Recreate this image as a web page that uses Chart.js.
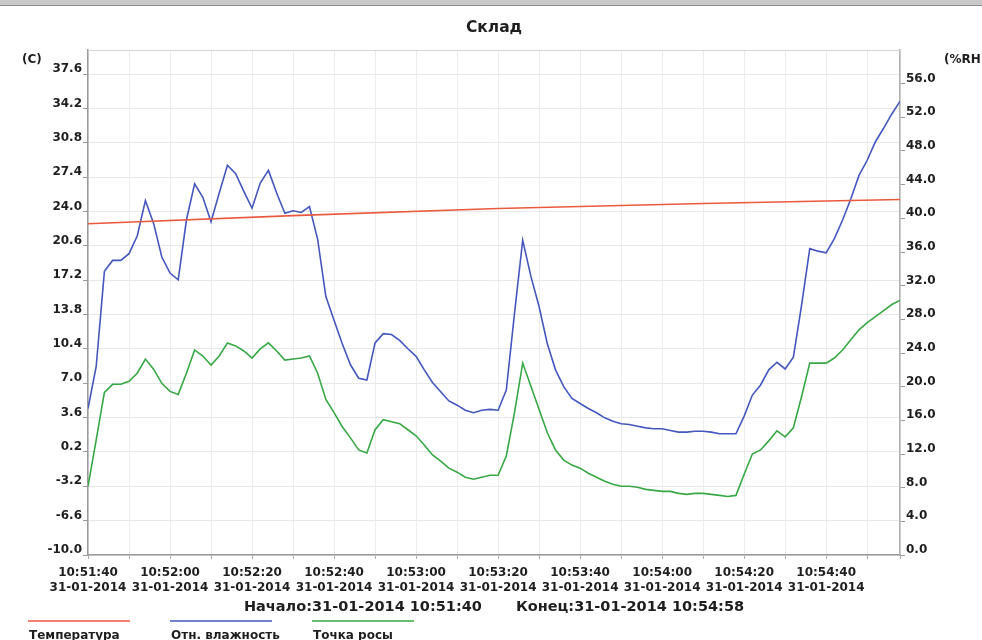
<!DOCTYPE html>
<html lang="ru">
<head>
<meta charset="UTF-8">
<title>Склад</title>
<script src="https://cdn.jsdelivr.net/npm/chart.js"></script>
<style>
  html, body { margin: 0; padding: 0; background: #fff; }
  #chart { display: block; }
</style>
</head>
<body>
<canvas id="chart" width="982" height="640"></canvas>
<script>
// one reading every 2 s, starting at 10:51:40
const sampleStep = 2;

// Отн. влажность, %RH (right axis)
const humidity = [
  17.4, 22.4, 33.7, 35.0, 35.0,  35.8, 37.9, 42.1, 39.4, 35.4,
  33.5, 32.7, 39.8, 44.1, 42.5,  39.6, 43.0, 46.3, 45.3, 43.2,
  41.2, 44.2, 45.7, 43.0, 40.6,  40.9, 40.7, 41.4, 37.5, 30.7,
  27.9, 25.1, 22.6, 21.0, 20.8,  25.2, 26.3, 26.2, 25.5, 24.5,
  23.6, 22.0, 20.5, 19.4, 18.3,  17.8, 17.2, 16.9, 17.2, 17.3,
  17.2, 19.6, 28.7, 37.4, 33.1,  29.5, 25.1, 22.0, 20.0, 18.6,
  18.0, 17.4, 16.9, 16.3, 15.9,  15.6, 15.5, 15.3, 15.1, 15.0,
  15.0, 14.8, 14.6, 14.6, 14.7,  14.7, 14.6, 14.4, 14.4, 14.4,
  16.5, 19.0, 20.2, 22.0, 22.9,  22.1, 23.5, 29.7, 36.4, 36.1,
  35.9, 37.6, 39.8, 42.3, 45.1,  46.9, 49.1, 50.7, 52.4, 53.9
];

// Точка росы, C (left axis)
const dewPoint = [
  -3.2, 1.4, 6.1, 6.9, 6.9,   7.2, 8.0, 9.4, 8.4, 7.0,
  6.2, 5.9, 8.0, 10.3, 9.7,   8.8, 9.7, 11.0, 10.7, 10.2,
  9.5, 10.4, 11.0, 10.2, 9.3,  9.4, 9.5, 9.7, 8.0, 5.4,
  4.1, 2.7, 1.6, 0.4, 0.1,    2.4, 3.4, 3.2, 3.0, 2.4,
  1.8, 0.9, -0.1, -0.7, -1.4, -1.8, -2.3, -2.5, -2.3, -2.1,
  -2.1, -0.2, 4.1, 9.0, 6.7,  4.4, 2.1, 0.4, -0.6, -1.1,
  -1.4, -1.9, -2.3, -2.7, -3.0, -3.2, -3.2, -3.3, -3.5, -3.6,
  -3.7, -3.7, -3.9, -4.0, -3.9, -3.9, -4.0, -4.1, -4.2, -4.1,
  -2.0, 0.0, 0.4, 1.3, 2.3,   1.7, 2.6, 5.7, 9.0, 9.0,
  9.0, 9.5, 10.3, 11.3, 12.3,  13.0, 13.6, 14.2, 14.8, 15.2
];

// Температура, C (left axis) - almost straight line
const tempSeconds = [0, 50, 100, 150, 198];
const temperature = [22.8, 23.6, 24.3, 24.8, 25.2];

const gridSeconds = [0, 10, 20, 30, 40, 50, 60, 70, 80, 90, 100, 110, 120, 130, 140, 150, 160, 170, 180, 190, 198];
const labelSeconds = [0, 20, 40, 60, 80, 100, 120, 140, 160, 180];
const timeLabels = ['10:51:40', '10:52:00', '10:52:20', '10:52:40', '10:53:00', '10:53:20', '10:53:40', '10:54:00', '10:54:20', '10:54:40'];
const dateLabel = '31-01-2014';

const leftTicks = [-10.0, -6.6, -3.2, 0.2, 3.6, 7.0, 10.4, 13.8, 17.2, 20.6, 24.0, 27.4, 30.8, 34.2, 37.6];
const rightTicks = [0, 4, 8, 12, 16, 20, 24, 28, 32, 36, 40, 44, 48, 52, 56];

const seriesNames = ['Температура', 'Отн. влажность', 'Точка росы'];
const seriesColors = ['#ec5a3e', '#4557bd', '#37a845'];

const toPoints = (xs, ys) => ys.map((y, i) => ({ x: xs[i], y: y }));
const sampleSeconds = humidity.map((_, i) => i * sampleStep);

Chart.defaults.font.family = '"DejaVu Sans", Verdana, sans-serif';
Chart.defaults.color = '#1e1e1e';

const decor = {
  id: 'decor',
  beforeDraw(chart) {
    const ctx = chart.ctx;
    ctx.save();
    ctx.fillStyle = '#fff';
    ctx.fillRect(0, 0, chart.width, chart.height);
    ctx.fillStyle = '#c9c9c9';
    ctx.fillRect(0, 0, chart.width, 5);
    ctx.fillStyle = '#8d8d8d';
    ctx.fillRect(0, 5, chart.width, 1);
    ctx.restore();
  },
  beforeDatasetsDraw(chart) {
    const { ctx, chartArea: a } = chart;
    ctx.save();
    ctx.strokeStyle = '#d4d4d4';
    ctx.lineWidth = 1;
    ctx.beginPath();
    ctx.moveTo(a.left, a.top + 0.5);
    ctx.lineTo(a.right, a.top + 0.5);
    ctx.stroke();
    ctx.restore();
  },
  afterDraw(chart) {
    const { ctx, chartArea: a } = chart;
    const cx = (a.left + a.right) / 2;
    ctx.save();
    ctx.fillStyle = '#1e1e1e';
    ctx.textBaseline = 'middle';

    ctx.font = 'bold 15.5px "DejaVu Sans"';
    ctx.textAlign = 'center';
    ctx.fillText('Склад', cx, 28);

    ctx.font = 'bold 12px "DejaVu Sans"';
    ctx.textAlign = 'left';
    ctx.fillText('(C)', 22, 60);
    ctx.fillText('(%RH', 944, 60);

    // start / end line under the axis
    ctx.font = 'bold 14.5px "DejaVu Sans"';
    const s1 = 'Начало:' + dateLabel + ' 10:51:40';
    const s2 = 'Конец:' + dateLabel + ' 10:54:58';
    const gap = 34;
    const w1 = ctx.measureText(s1).width, w2 = ctx.measureText(s2).width;
    let x0 = cx - (w1 + gap + w2) / 2;
    ctx.fillText(s1, x0, 607);
    ctx.fillText(s2, x0 + w1 + gap, 607);

    // legend: line sample above the name
    ctx.font = 'bold 12px "DejaVu Sans"';
    const starts = [28, 170, 312];
    chart.data.datasets.forEach((ds, i) => {
      ctx.globalAlpha = 0.75;
      ctx.strokeStyle = ds.borderColor;
      ctx.lineWidth = 2;
      ctx.beginPath();
      ctx.moveTo(starts[i], 621);
      ctx.lineTo(starts[i] + 102, 621);
      ctx.stroke();
      ctx.globalAlpha = 1;
      ctx.fillText(ds.label, starts[i] + 1, 636);
    });
    ctx.restore();
  }
};

new Chart(document.getElementById('chart'), {
  type: 'line',
  data: {
    datasets: [
      { label: seriesNames[0], data: toPoints(tempSeconds, temperature), borderColor: seriesColors[0], yAxisID: 'y' },
      { label: seriesNames[1], data: toPoints(sampleSeconds, humidity), borderColor: seriesColors[1], yAxisID: 'y1' },
      { label: seriesNames[2], data: toPoints(sampleSeconds, dewPoint), borderColor: seriesColors[2], yAxisID: 'y' }
    ]
  },
  options: {
    responsive: false,
    animation: false,
    events: [],
    layout: { padding: { top: 50, left: 0, right: 0, bottom: 42 } },
    elements: {
      point: { radius: 0 },
      line: { borderWidth: 1.6, tension: 0, fill: false }
    },
    plugins: {
      legend: { display: false },
      title: { display: false },
      tooltip: { enabled: false }
    },
    scales: {
      x: {
        type: 'linear',
        min: 0,
        max: 198,
        afterBuildTicks: (s) => { s.ticks = gridSeconds.map(v => ({ value: v })); },
        afterFit: (s) => { s.height = 43; },
        grid: { color: '#ececec', tickColor: '#aaa', tickLength: 4 },
        border: { color: '#9a9a9a', width: 1.5 },
        ticks: {
          autoSkip: false,
          maxRotation: 0,
          minRotation: 0,
          padding: 6,
          font: { size: 12, weight: 'bold', lineHeight: 1.25 },
          callback: (v) => {
            const i = labelSeconds.indexOf(v);
            return i < 0 ? '' : [timeLabels[i], dateLabel];
          }
        }
      },
      y: {
        position: 'left',
        min: -10,
        max: 40,
        afterBuildTicks: (s) => { s.ticks = leftTicks.map(v => ({ value: v })); },
        afterFit: (s) => { s.width = 88; },
        grid: { color: '#e8e8e8', tickColor: '#999', tickLength: 5 },
        border: { color: '#9a9a9a', width: 1.5 },
        ticks: {
          padding: 1,
          labelOffset: -5,
          font: { size: 12, weight: 'bold' },
          callback: (v) => v.toFixed(1)
        }
      },
      y1: {
        position: 'right',
        min: 0,
        max: 60,
        afterBuildTicks: (s) => { s.ticks = rightTicks.map(v => ({ value: v })); },
        afterFit: (s) => { s.width = 82; },
        grid: { drawOnChartArea: false, tickColor: '#999', tickLength: 5 },
        border: { color: '#b0b0b0', width: 1.5 },
        ticks: {
          padding: 1,
          labelOffset: -5,
          font: { size: 12, weight: 'bold' },
          callback: (v) => v.toFixed(1)
        }
      }
    }
  },
  plugins: [decor]
});
</script>
</body>
</html>
